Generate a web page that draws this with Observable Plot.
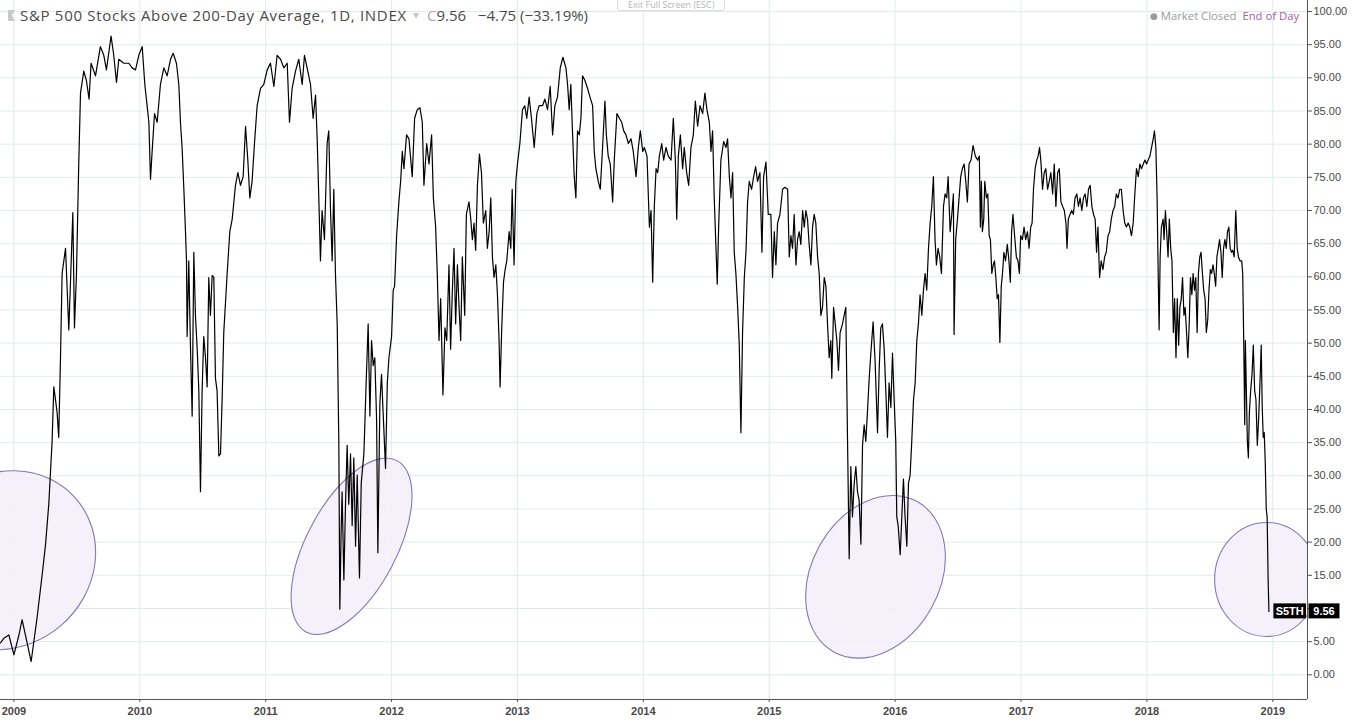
<!DOCTYPE html>
<html>
<head>
<meta charset="utf-8">
<script src="https://cdn.jsdelivr.net/npm/d3@7"></script>
<script src="https://cdn.jsdelivr.net/npm/@observablehq/plot@0.6"></script>
<style>
  html, body { margin: 0; padding: 0; background: #fff; }
  #wrap { position: relative; width: 1355px; height: 725px; overflow: hidden; font-family: "Open Sans", "DejaVu Sans", sans-serif; }
  #wrap svg { display: block; }
  .ov { position: absolute; white-space: nowrap; }
</style>
</head>
<body>
<div id="wrap"></div>
<script>
// ---- Data: % of S&P 500 stocks above their 200-day average (decimal year, value) ----
const breadth2009to2011 = [
  [2008.893,4.8],[2008.92,5.5],[2008.96,6],[2009.0,3],[2009.04,6],[2009.065,8.3],[2009.105,4.8],[2009.137,2.0],
  [2009.184,8.6],[2009.224,15],[2009.25,19.4],[2009.277,25.7],[2009.303,35],[2009.317,43.4],[2009.343,39.6],[2009.356,35.8],
  [2009.37,47.8],[2009.383,60.5],[2009.41,64.3],[2009.436,52],[2009.449,59],[2009.468,69.7],[2009.481,52.3],[2009.497,60.5],
  [2009.515,77],[2009.529,87.7],[2009.555,91],[2009.576,89.6],[2009.597,86.8],[2009.613,92.2],[2009.648,90.3],[2009.687,94.7],
  [2009.714,93.4],[2009.735,91.2],[2009.772,96.3],[2009.793,93.4],[2009.815,89.3],[2009.833,92.8],[2009.873,92.2],[2009.913,92.2],
  [2009.939,91.5],[2009.966,91.2],[2009.992,93.4],[2010.019,94.7],[2010.04,89],[2010.058,85.8],[2010.072,83.3],[2010.085,74.7],
  [2010.098,78.9],[2010.117,84.6],[2010.138,83.3],[2010.164,89],[2010.191,91.5],[2010.217,90.3],[2010.244,92.8],[2010.265,93.7],
  [2010.291,92.2],[2010.31,89],[2010.323,83.3],[2010.336,79.5],[2010.35,73.2],[2010.363,66.8],[2010.371,62.4],[2010.376,51],
  [2010.389,62.4],[2010.403,49.1],[2010.416,39],[2010.429,63.7],[2010.442,54.2],[2010.456,49.1],[2010.469,42.8],[2010.482,27.6],
  [2010.495,42.8],[2010.508,51],[2010.522,47.8],[2010.535,43.4],[2010.548,59.9],[2010.561,54.2],[2010.575,60.2],[2010.588,59.9],
  [2010.601,44.7],[2010.614,42.8],[2010.628,33],[2010.641,33.3],[2010.654,41.5],[2010.667,51.6],[2010.694,60.5],[2010.715,66.8],
  [2010.734,68.7],[2010.76,73.8],[2010.779,75.7],[2010.8,73.8],[2010.821,75.1],[2010.84,82.7],[2010.858,77.6],[2010.874,71.9],
  [2010.892,74.4],[2010.911,80.1],[2010.932,85.8],[2010.959,88.4],[2010.985,89],[2011.012,91.2],[2011.038,92.2],[2011.065,88.7],
  [2011.091,93.4],[2011.118,92.8],[2011.144,91.5],[2011.171,92.2],[2011.189,83.3],[2011.21,88.4],[2011.237,91],[2011.263,92.8],
  [2011.29,89],[2011.308,93.4],[2011.329,91.5],[2011.356,89],[2011.377,83.9],[2011.396,87.4],[2011.409,80.8],[2011.422,71.9]
];
const breadth2011to2014 = [
  [2011.435,62.4],[2011.448,70],[2011.467,65.6],[2011.488,80.1],[2011.501,82],[2011.515,70],[2011.528,62.4],[2011.541,73.2],
  [2011.554,60.5],[2011.568,52.9],[2011.581,35.2],[2011.589,9.9],[2011.599,21.3],[2011.607,27.6],[2011.621,14.3],[2011.634,25.7],
  [2011.647,34.6],[2011.66,25.7],[2011.674,33.3],[2011.687,22.5],[2011.7,32.7],[2011.714,19.4],[2011.727,30.1],[2011.745,14.6],
  [2011.759,28.9],[2011.78,33.3],[2011.798,44],[2011.814,52.9],[2011.828,39],[2011.841,50.4],[2011.854,46.6],[2011.867,47.8],
  [2011.881,38.4],[2011.891,18.4],[2011.907,40.9],[2011.92,45.3],[2011.934,39],[2011.952,31.1],[2011.966,44],[2011.979,47.8],
  [2012.0,51],[2012.013,58],[2012.024,58.6],[2012.04,66.2],[2012.058,71.3],[2012.072,74.4],[2012.085,78.9],[2012.098,76.3],
  [2012.119,81.4],[2012.138,80.8],[2012.164,75.1],[2012.183,83.9],[2012.204,85.2],[2012.225,85.5],[2012.244,83.3],[2012.257,73.8],
  [2012.279,80.1],[2012.297,77],[2012.318,81.4],[2012.332,71.9],[2012.35,67.5],[2012.363,60.5],[2012.377,50.4],[2012.39,56.7],
  [2012.408,42.2],[2012.424,52.3],[2012.438,50.4],[2012.456,61.8],[2012.469,49.1],[2012.483,58],[2012.496,64.3],[2012.509,52.9],
  [2012.523,61.8],[2012.536,55.4],[2012.549,50.4],[2012.562,63],[2012.581,54.2],[2012.594,69.4],[2012.615,71.3],[2012.629,68.7],
  [2012.642,65.6],[2012.655,68.1],[2012.668,64],[2012.682,73.8],[2012.698,78.5],[2012.714,75.7],[2012.729,68.1],[2012.748,70],
  [2012.761,64.3],[2012.775,66.8],[2012.788,71.9],[2012.801,63],[2012.814,59.9],[2012.828,61.8],[2012.841,57.3],[2012.854,50.4],
  [2012.862,43.4],[2012.875,52.3],[2012.889,59.2],[2012.902,61.1],[2012.915,62.4],[2012.934,66.8],[2012.947,64.3],[2012.958,73.2],
  [2012.973,61.8],[2012.987,74.4],[2013.0,77],[2013.019,80.1],[2013.04,85.2],[2013.058,85.8],[2013.074,83.9],[2013.093,87.1],
  [2013.111,83.9],[2013.133,79.5],[2013.154,84.6],[2013.172,85.8],[2013.199,85.8],[2013.218,86.8],[2013.239,85.2],[2013.26,88.7],
  [2013.279,81.4],[2013.297,85.8],[2013.318,87.1],[2013.34,91.5],[2013.361,93.1],[2013.385,91.5],[2013.398,89],[2013.411,85.2],
  [2013.424,89],[2013.438,81.4],[2013.451,75.1],[2013.464,71.9],[2013.477,82],[2013.491,81.4],[2013.504,83.9],[2013.517,90.3],
  [2013.536,89.6],[2013.557,88.4],[2013.576,87.1],[2013.597,85.8],[2013.61,78.9],[2013.623,76.3],[2013.642,74.4],[2013.658,73.2],
  [2013.676,79.5],[2013.695,86.5],[2013.706,81.4],[2013.721,78.2],[2013.737,77],[2013.756,71.3],[2013.769,77.6],[2013.79,84.6],
  [2013.809,83.9],[2013.828,83.3],[2013.844,82],[2013.862,81.4],[2013.881,80.1],[2013.902,80.8],[2013.92,78.9],[2013.942,75.1],
  [2013.96,79.5],[2013.976,82],[2013.995,78.9],[2014.008,79.5],[2014.029,78.2]
];
const breadth2014to2016 = [
  [2014.048,67.5],[2014.061,70],[2014.074,59.2],[2014.087,70.6],[2014.101,76.3],[2014.114,75.7],[2014.127,78.2],[2014.146,80.1],
  [2014.161,77.6],[2014.18,79.5],[2014.198,78.2],[2014.22,77.6],[2014.238,83.9],[2014.254,77.6],[2014.265,68.7],[2014.278,78.2],
  [2014.294,81.4],[2014.312,76.3],[2014.325,79.5],[2014.344,75.7],[2014.36,73.8],[2014.378,79.5],[2014.397,81.4],[2014.413,86.5],
  [2014.431,82.7],[2014.45,85.8],[2014.471,84.6],[2014.489,87.7],[2014.505,85.2],[2014.524,83.3],[2014.537,78.9],[2014.55,82],
  [2014.563,71.9],[2014.577,64.3],[2014.587,58.9],[2014.598,67.5],[2014.616,77.6],[2014.638,80.4],[2014.656,79.5],[2014.669,80.8],
  [2014.683,75.1],[2014.696,71.9],[2014.709,75.7],[2014.722,63.7],[2014.735,60.5],[2014.749,55.4],[2014.762,49.7],[2014.775,36.5],
  [2014.788,51.6],[2014.802,59.9],[2014.815,63.7],[2014.828,71.3],[2014.841,74.4],[2014.86,73.2],[2014.876,75.1],[2014.892,76.6],
  [2014.907,74.4],[2014.926,75.7],[2014.942,63.7],[2014.955,75.1],[2014.974,77.3],[2014.992,69.4],[2015.013,69.4],[2015.026,59.9],
  [2015.04,66.8],[2015.053,61.8],[2015.066,68.1],[2015.085,69.4],[2015.106,73.2],[2015.124,73.5],[2015.146,73.2],[2015.159,63],
  [2015.172,66.2],[2015.185,64.3],[2015.198,69.4],[2015.212,61.8],[2015.225,65.6],[2015.238,66.8],[2015.251,64.9],[2015.265,70],
  [2015.278,67.5],[2015.291,70],[2015.304,68.7],[2015.317,64.9],[2015.331,61.8],[2015.344,67.5],[2015.357,69.4],[2015.37,68.1],
  [2015.384,63],[2015.397,60.5],[2015.41,54.2],[2015.423,55.4],[2015.437,59.9],[2015.45,58.6],[2015.463,52.9],[2015.476,47.8],
  [2015.489,50.4],[2015.497,44.7],[2015.511,55.4],[2015.524,52.9],[2015.537,50.4],[2015.55,45.9],[2015.563,51.6],[2015.582,52.9],
  [2015.595,54.2],[2015.608,55.4],[2015.622,35.2],[2015.635,17.5],[2015.648,31.4],[2015.661,23.8],[2015.675,28.9],[2015.688,31.4],
  [2015.701,27.6],[2015.714,26.3],[2015.728,19.7],[2015.741,34.6],[2015.754,37.7],[2015.767,35.2],[2015.78,39.6],[2015.794,44.7],
  [2015.807,48.5],[2015.825,53.2],[2015.841,47.2],[2015.86,36.5],[2015.873,45.9],[2015.886,52.3],[2015.899,52.9],[2015.913,49.1],
  [2015.926,42.8],[2015.939,35.8],[2015.952,44],[2015.966,40.3],[2015.979,48.5],[2015.992,41.5],[2016.005,35.2],[2016.013,23.8],
  [2016.024,22.5],[2016.04,18.1],[2016.053,23.8],[2016.066,29.5],[2016.079,23.8],[2016.093,19.4],[2016.106,28.9],[2016.119,30.1],
  [2016.132,35.2],[2016.146,41.5],[2016.159,44],[2016.172,50.4],[2016.185,52.9],[2016.198,57.3],[2016.212,54.2],[2016.225,58],
  [2016.238,60.5],[2016.251,58],[2016.265,64.3],[2016.278,68.1],[2016.291,70.6],[2016.304,75.1],[2016.317,65.6],[2016.328,61.8],
  [2016.341,64.3],[2016.354,63],[2016.368,60.5],[2016.384,70.6],[2016.397,72.5],[2016.41,71.9],[2016.421,75.1],[2016.437,66.8],
  [2016.45,69.4],[2016.463,72.5],[2016.468,51.3],[2016.481,65.6],[2016.495,68.7],[2016.508,71.9],[2016.521,75.1],[2016.534,76.3],
  [2016.548,77],[2016.561,74.4],[2016.574,71.3],[2016.587,77]
];
const breadth2016to2018 = [
  [2016.603,77.6],[2016.619,79.8],[2016.637,78.2],[2016.656,77.6],[2016.669,78.2],[2016.677,67.5],[2016.685,74.4],[2016.693,66.8],
  [2016.704,68.7],[2016.712,74.4],[2016.725,71.9],[2016.736,72.5],[2016.747,66.2],[2016.757,65.6],[2016.768,60.5],[2016.779,61.8],
  [2016.789,62.4],[2016.8,59.9],[2016.811,56.7],[2016.821,57.3],[2016.832,50.1],[2016.843,58.6],[2016.853,60.5],[2016.864,63.7],
  [2016.877,62.4],[2016.891,64.9],[2016.904,62.4],[2016.915,59.2],[2016.925,66.8],[2016.936,69.4],[2016.949,66.2],[2016.963,63],
  [2016.976,62.4],[2016.987,60.5],[2016.997,66.2],[2017.011,65.6],[2017.024,67.5],[2017.037,65.6],[2017.051,66.8],[2017.064,64.3],
  [2017.077,67.5],[2017.088,68.1],[2017.099,73.2],[2017.112,76.3],[2017.125,77.6],[2017.136,78.2],[2017.147,79.5],[2017.157,77.6],
  [2017.171,73.2],[2017.184,75.7],[2017.197,76.3],[2017.211,73.2],[2017.224,74.4],[2017.237,75.7],[2017.251,72.5],[2017.264,77],
  [2017.277,70.6],[2017.291,75.7],[2017.304,76.3],[2017.317,71.3],[2017.331,70.6],[2017.344,70],[2017.357,68.1],[2017.365,64.3],
  [2017.376,68.7],[2017.389,69.4],[2017.403,70],[2017.416,69.4],[2017.429,71.9],[2017.443,72.5],[2017.456,70.6],[2017.469,71.9],
  [2017.483,70],[2017.496,71.9],[2017.509,72.5],[2017.523,70.6],[2017.536,73.2],[2017.549,73.8],[2017.563,70.6],[2017.576,69.4],
  [2017.589,68.7],[2017.6,63.7],[2017.611,67.5],[2017.624,59.9],[2017.637,62.4],[2017.651,61.1],[2017.664,63],[2017.677,63.7],
  [2017.691,66.2],[2017.704,66.8],[2017.717,68.7],[2017.731,70],[2017.744,70.6],[2017.757,72.5],[2017.771,71.9],[2017.784,73.2],
  [2017.797,73.2],[2017.811,70],[2017.824,68.1],[2017.837,67.5],[2017.851,68.1],[2017.864,67.5],[2017.877,66.2],[2017.891,68.1],
  [2017.904,72.5],[2017.917,76.3],[2017.931,75.1],[2017.944,77],[2017.957,76.3],[2017.971,77],[2017.984,77.6],[2017.997,77],
  [2018.01,77.6],[2018.024,78.2],[2018.037,79.5],[2018.05,80.8],[2018.06,82],[2018.071,79.5],[2018.081,71.9],[2018.089,61.1],
  [2018.097,52],[2018.105,63],[2018.115,67.5],[2018.129,68.7],[2018.136,65.6],[2018.147,70],[2018.157,66.8],[2018.168,63],
  [2018.178,68.7],[2018.189,64.3],[2018.199,62.4],[2018.21,51.6],[2018.22,56.7],[2018.231,47.8],[2018.241,56.7],[2018.252,49.7],
  [2018.262,55.4],[2018.273,56.7],[2018.283,59.9],[2018.294,54.2],[2018.304,55.4],[2018.315,51.6],[2018.325,47.8],[2018.336,52.9],
  [2018.346,59.9],[2018.357,57.3],[2018.367,60.5],[2018.378,58],[2018.388,59.9],[2018.399,51.6],[2018.409,60.5],[2018.42,63],
  [2018.43,63.7],[2018.441,60.5],[2018.451,58],[2018.462,56.7],[2018.472,51.6],[2018.483,53.5],[2018.493,58],[2018.504,61.1],
  [2018.514,60.5],[2018.525,61.8],[2018.535,60.5],[2018.546,58.6],[2018.556,63],[2018.567,64.3],[2018.577,65.6],[2018.588,63.7],
  [2018.598,59.9],[2018.609,64.3],[2018.619,65.6],[2018.63,64.3],[2018.64,66.8],[2018.651,67.5],[2018.661,64.3],[2018.672,63.7],
  [2018.682,64],[2018.693,63],[2018.706,70],[2018.717,64.3],[2018.727,63],[2018.74,62.4],[2018.753,62.4],[2018.761,60.5],
  [2018.769,50.4],[2018.777,37.7],[2018.782,50.4],[2018.79,42.8],[2018.798,35.2],[2018.806,32.7],[2018.814,39.6],[2018.824,42.8],
  [2018.835,45.3],[2018.845,49.7],[2018.856,42.8],[2018.866,41.5],[2018.877,34.6],[2018.887,38.4],[2018.898,44],[2018.908,49.7],
  [2018.916,40.3],[2018.924,35.8],[2018.932,36.5],[2018.94,32],[2018.948,25],[2018.955,23.8],[2018.963,14.3],[2018.969,9.56]
];

// Axis ticks
const yearTicks = [2009, 2010, 2011, 2012, 2013, 2014, 2015, 2016, 2017, 2018, 2019];
const valueTicks = [0, 5, 10, 15, 20, 25, 30, 35, 40, 45, 50, 55, 60, 65, 70, 75, 80, 85, 90, 95, 100];

// Circled lows (centre as decimal year, value)
const circledLows = [
  {t: 2008.933, v: 17.2, a: 94, b: 86, rot: -41},
  {t: 2011.686, v: 19.3, a: 97, b: 45, rot: -62},
  {t: 2015.848, v: 14.7, a: 86, b: 64, rot: -61},
  {t: 2018.955, v: 14.3, a: 52, b: 57, rot: 0}
];

const lastClose = {symbol: "S5TH", value: 9.56};

// ---- Build ----
const series = [...breadth2009to2011, ...breadth2011to2014, ...breadth2014to2016, ...breadth2016to2018]
  .map(([t, v]) => ({t, v}));
const last = series[series.length - 1];

const xDomain = [2008.8935, 2019.2756];
const yDomain = [-3.724, 101.658];
const gridColor = "#e2eaed";
const axisColor = "#555";

function ellipsesMark(index, scales, values, dims) {
  const g = d3.create("svg:svg")
    .attr("x", dims.marginLeft).attr("y", dims.marginTop)
    .attr("width", dims.width - dims.marginLeft - dims.marginRight)
    .attr("height", dims.height - dims.marginTop - dims.marginBottom)
    .attr("overflow", "hidden");
  for (const e of circledLows) {
    const cx = scales.x(e.t) - dims.marginLeft, cy = scales.y(e.v) - dims.marginTop;
    g.append("ellipse")
      .attr("cx", 0).attr("cy", 0).attr("rx", e.a).attr("ry", e.b)
      .attr("transform", `translate(${cx},${cy}) rotate(${e.rot})`)
      .attr("fill", "#f3f0fa").attr("fill-opacity", 0.9)
      .attr("stroke", "#8378bb").attr("stroke-width", 1.1);
  }
  return g.node();
}

function lastLabelMark(index, scales, values, dims) {
  const g = d3.create("svg:g");
  const px = scales.x(last.t), py = scales.y(last.v);
  const right = dims.width - dims.marginRight;
  g.append("rect").attr("x", px + 5).attr("y", py - 7.5).attr("width", right - px - 6).attr("height", 15).attr("fill", "#000");
  g.append("text").attr("x", px + 5 + (right - px - 6) / 2).attr("y", py).attr("dy", "0.36em")
    .attr("text-anchor", "middle").attr("fill", "#fff").attr("font-size", 11).attr("font-weight", "bold")
    .attr("font-family", "Liberation Sans, Arial, sans-serif").text(lastClose.symbol);
  g.append("rect").attr("x", right + 1.5).attr("y", py - 7.5).attr("width", 31).attr("height", 15).attr("fill", "#000");
  g.append("text").attr("x", right + 17).attr("y", py).attr("dy", "0.36em")
    .attr("text-anchor", "middle").attr("fill", "#fff").attr("font-size", 11).attr("font-weight", "bold")
    .attr("font-family", "Liberation Sans, Arial, sans-serif").text(lastClose.value.toFixed(2));
  return g.node();
}

const chart = Plot.plot({
  width: 1355,
  height: 725,
  marginLeft: 0,
  marginRight: 48,
  marginTop: 0,
  marginBottom: 26,
  style: {fontFamily: "Liberation Sans, Arial, sans-serif", fontSize: "11px", color: "#4a4a4a", background: "#fff"},
  x: {type: "linear", domain: xDomain, axis: null, label: null},
  y: {domain: yDomain, axis: null, label: null},
  marks: [
    Plot.gridX(yearTicks, {stroke: gridColor, strokeOpacity: 1}),
    Plot.gridY(valueTicks, {stroke: gridColor, strokeOpacity: 1}),
    ellipsesMark,
    Plot.line(series, {x: "t", y: "v", stroke: "#000", strokeWidth: 1.2}),
    Plot.ruleX([xDomain[1]], {stroke: axisColor, strokeWidth: 1}),
    Plot.ruleY([yDomain[0]], {stroke: axisColor, strokeWidth: 1}),
    // the 10.00 label sits behind the last-value badge in the original, so it is left blank
    Plot.axisY(valueTicks, {anchor: "right", label: null, tickSize: 4, tickPadding: 2, stroke: axisColor, fill: "#4a4a4a",
      tickFormat: d => (d === 10 ? "" : d.toFixed(2))}),
    Plot.axisX(yearTicks, {anchor: "bottom", label: null, tickSize: 3, tickPadding: 5, stroke: axisColor, fill: "#4a4a4a",
      fontWeight: "bold", tickFormat: d => String(d)}),
    lastLabelMark
  ]
});

const wrap = document.getElementById("wrap");
wrap.appendChild(chart);

// ---- Header overlays (TradingView-style legend) ----
function ov(html, css) {
  const d = document.createElement("div");
  d.className = "ov";
  d.innerHTML = html;
  Object.assign(d.style, css);
  wrap.appendChild(d);
}
ov("", {left: "8px", top: "10px", width: "7px", height: "11px", background: "#c9c9c9",
  clipPath: "polygon(0 0, 100% 0, 55% 50%, 100% 100%, 0 100%)"});
ov("S&amp;P 500 Stocks Above 200-Day Average, 1D, INDEX", {left: "20px", top: "5px", fontSize: "15px", color: "#4a4a4a", letterSpacing: "0.7px"});
ov("▾", {left: "413px", top: "6px", fontSize: "12px", color: "#c8c8c8"});
ov('<span style="color:#a9a9a9">C</span>9.56&nbsp;&nbsp;&nbsp;−4.75 (−33.19%)', {left: "427px", top: "5px", fontSize: "15px", color: "#4a4a4a"});
ov("Exit Full Screen (ESC)", {left: "617px", top: "-1px", fontSize: "9px", lineHeight: "10px", color: "#b5b5b5", border: "1px solid #dcdcdc",
  borderRadius: "2px", padding: "0 10px", background: "#fff"});
ov('<span style="color:#9a9a9a;font-size:9px;vertical-align:1px">●</span> <span style="color:#9a9a9a">Market Closed</span>&nbsp; <span style="color:#a45ea9">End of Day</span>',
  {left: "1150px", top: "8px", fontSize: "11.3px"});
</script>
</body>
</html>
